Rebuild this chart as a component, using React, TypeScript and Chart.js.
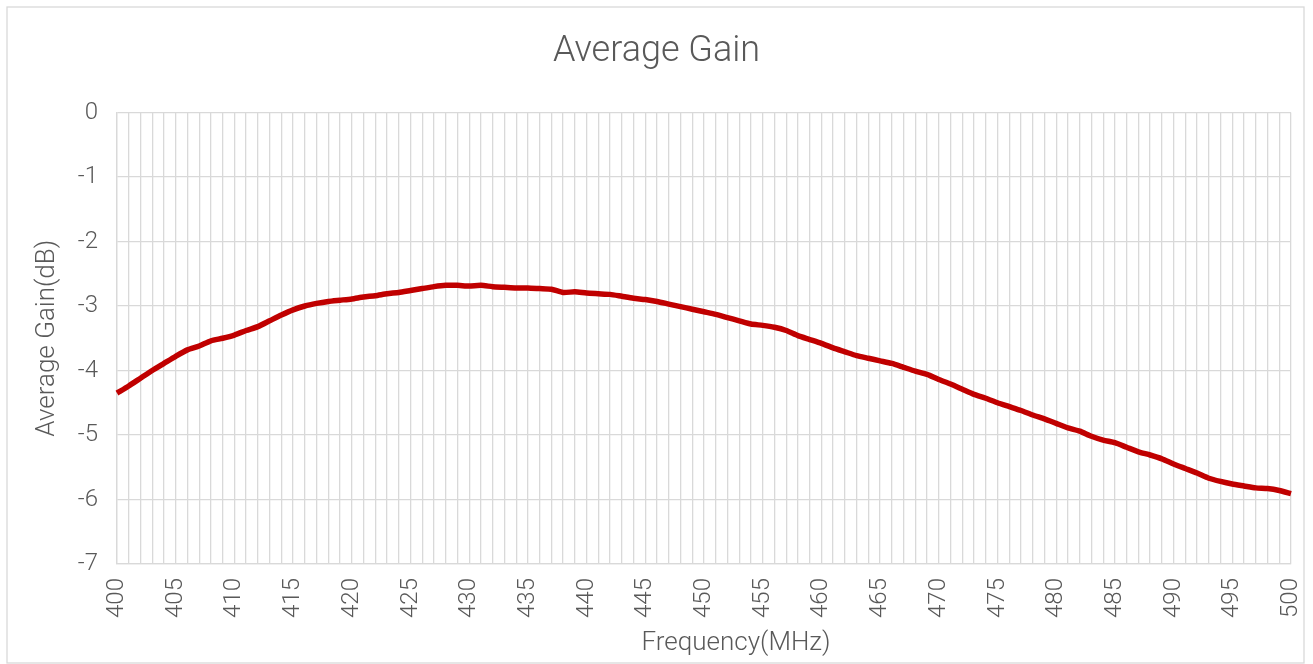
import React, { useEffect, useRef } from "react";
import { Chart, registerables } from "chart.js";

Chart.register(...registerables);

const frequencies: number[] = [
  400, 401, 402, 403, 404, 405, 406, 407, 408, 409,
  410, 411, 412, 413, 414, 415, 416, 417, 418, 419,
  420, 421, 422, 423, 424, 425, 426, 427, 428, 429,
  430, 431, 432, 433, 434, 435, 436, 437, 438, 439,
  440, 441, 442, 443, 444, 445, 446, 447, 448, 449,
  450, 451, 452, 453, 454, 455, 456, 457, 458, 459,
  460, 461, 462, 463, 464, 465, 466, 467, 468, 469,
  470, 471, 472, 473, 474, 475, 476, 477, 478, 479,
  480, 481, 482, 483, 484, 485, 486, 487, 488, 489,
  490, 491, 492, 493, 494, 495, 496, 497, 498, 499,
  500,
];

const averageGain: number[] = [
  -4.35, -4.24, -4.12, -4.0, -3.89, -3.78, -3.68, -3.62, -3.54, -3.5,
  -3.45, -3.38, -3.32, -3.23, -3.14, -3.06, -3.0, -2.96, -2.93, -2.91,
  -2.89, -2.86, -2.84, -2.81, -2.79, -2.76, -2.73, -2.7, -2.68, -2.68,
  -2.69, -2.68, -2.7, -2.71, -2.72, -2.72, -2.73, -2.74, -2.79, -2.78,
  -2.8, -2.81, -2.82, -2.85, -2.88, -2.9, -2.93, -2.97, -3.01, -3.05,
  -3.09, -3.13, -3.18, -3.23, -3.28, -3.3, -3.33, -3.38, -3.46, -3.52,
  -3.58, -3.65, -3.71, -3.77, -3.81, -3.85, -3.89, -3.95, -4.01, -4.06,
  -4.14, -4.21, -4.29, -4.37, -4.43, -4.5, -4.56, -4.62, -4.69, -4.75,
  -4.82, -4.89, -4.94, -5.02, -5.08, -5.12, -5.19, -5.26, -5.31, -5.37,
  -5.45, -5.52, -5.59, -5.67, -5.72, -5.76, -5.79, -5.82, -5.83, -5.86,
  -5.91,
];

const yMin = -7;
const yMax = 0;
const xLabelEvery = 5;
const xTitle = "Frequency(MHz)";

const FONT = "Roboto, 'Noto Sans', sans-serif";
const TEXT = "#595959";
const GRID = "#d9d9d9";

const borderPlugin = {
  id: "outerBorder",
  beforeDraw(chart: any) {
    const ctx = chart.ctx;
    ctx.save();
    ctx.fillStyle = "#ffffff";
    ctx.fillRect(0, 0, chart.width, chart.height);
    ctx.strokeStyle = GRID;
    ctx.lineWidth = 1.3;
    ctx.strokeRect(7, 7, 1297, 656);
    ctx.restore();
  },
  afterDraw(chart: any) {
    const ctx = chart.ctx;
    ctx.save();
    ctx.fillStyle = TEXT;
    ctx.font = `300 26px ${FONT}`;
    ctx.textAlign = "center";
    ctx.textBaseline = "middle";
    ctx.fillText(xTitle, 736, 643);
    ctx.restore();
  },
};

export default function App() {
  const ref = useRef<HTMLCanvasElement | null>(null);

  useEffect(() => {
    document.body.style.margin = "0";
    const canvas = ref.current;
    if (!canvas) return;
    const chart = new Chart(canvas, {
      type: "line",
      data: {
        labels: frequencies.map((f) => String(f)),
        datasets: [
          {
            label: "Average Gain",
            data: averageGain,
            borderColor: "#c00000",
            backgroundColor: "#c00000",
            borderWidth: 5.5,
            pointRadius: 0,
            tension: 0.2,
            fill: false,
          },
        ],
      },
      options: {
        responsive: false,
        animation: false,
        layout: { padding: { left: 0, right: 0, top: 0, bottom: 0 } },
        plugins: {
          legend: { display: false },
          tooltip: { enabled: false },
          title: {
            display: true,
            text: "Average Gain",
            color: TEXT,
            font: { family: FONT, size: 36, weight: "300" as any },
            padding: { top: 30.4, bottom: 38.9 },
          },
        },
        scales: {
          x: {
            type: "category",
            offset: false,
            afterFit(scale: any) {
              scale.height = 100;
              scale.paddingLeft = 0;
              scale.paddingRight = 22;
            },
            grid: {
              color: GRID,
              lineWidth: 1.3,
              drawTicks: false,
            },
            border: { color: GRID, width: 1.3 },
            ticks: {
              autoSkip: false,
              maxRotation: 90,
              minRotation: 90,
              padding: 14,
              color: TEXT,
              font: { family: FONT, size: 24, weight: "300" as any },
              callback(_v: any, index: number) {
                const f = frequencies[index];
                return f % xLabelEvery === 0 ? String(f) : "";
              },
            },
            title: { display: false },
          },
          y: {
            type: "linear",
            min: yMin,
            max: yMax,
            afterFit(scale: any) {
              scale.width = 117;
            },
            grid: {
              color: GRID,
              lineWidth: 1.3,
              drawTicks: false,
            },
            border: { color: GRID, width: 1.3 },
            ticks: {
              stepSize: 1,
              padding: 19,
              color: TEXT,
              font: { family: FONT, size: 24, weight: "300" as any },
              callback(v: any) {
                return String(v);
              },
            },
            title: {
              display: true,
              text: "Average Gain(dB)",
              color: TEXT,
              font: { family: FONT, size: 26, weight: "300" as any },
              padding: { top: 31.4, bottom: 0 },
            },
          },
        },
      },
      plugins: [borderPlugin],
    });
    return () => chart.destroy();
  }, []);

  return (
    <canvas
      ref={ref}
      width={1313}
      height={664}
      style={{ display: "block", width: 1313, height: 664 }}
    />
  );
}
